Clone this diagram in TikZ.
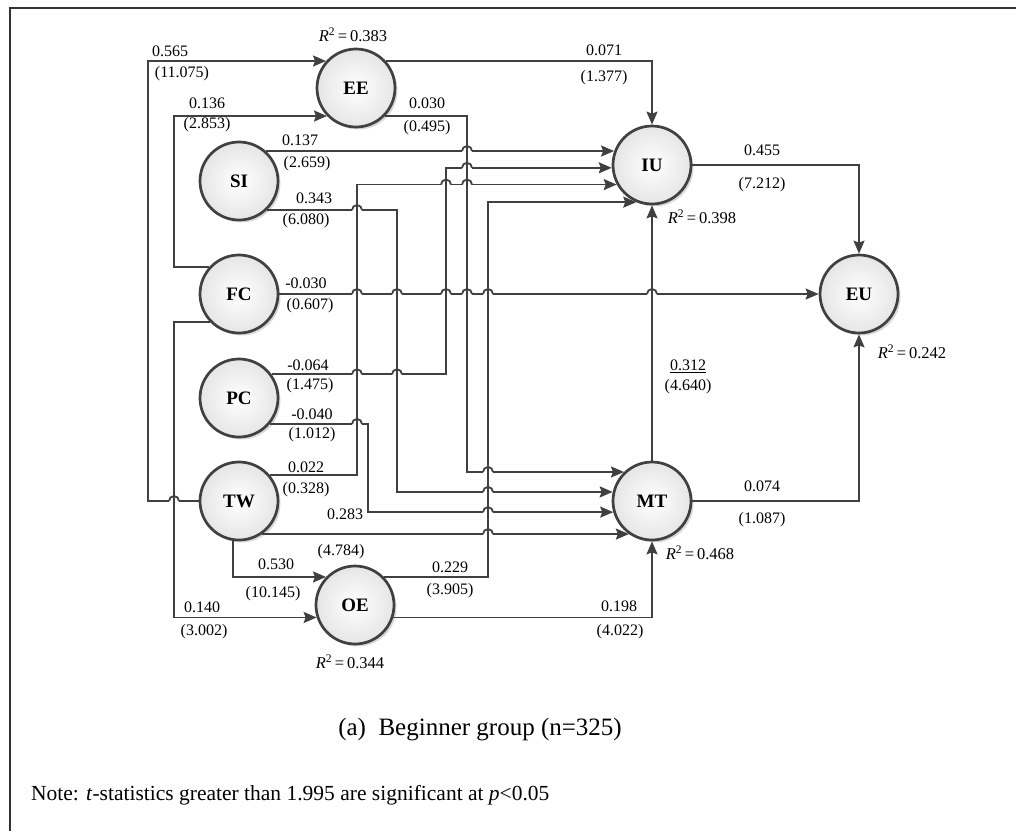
\documentclass[tikz,border=0pt]{standalone}
\usepackage{fontspec}
\setmainfont{Liberation Serif}
\usetikzlibrary{arrows.meta,shadows,calc}
\definecolor{ln}{HTML}{404040}
\newcommand\jump[1]{%
  \coordinate (h) at #1;
  \fill[white] ([shift={(-5,-2.4)}]h) rectangle ([shift={(5,2.4)}]h);
  \draw[conn] ([shift={(0,-6)}]h) -- ([shift={(0,6)}]h);
  \draw[conn] ([shift={(-5,0)}]h) arc[start angle=180,end angle=360,radius=5];
}
\newcommand\Rsq[1]{{\itshape R}\textsuperscript{2}\,=\,#1}
\begin{document}
\begin{tikzpicture}[x=1pt,y=-1pt,
  lat/.style={circle, draw=ln, line width=2.7pt, minimum size=78pt, inner sep=0pt,
    inner color=white, outer color=black!10,
    drop shadow={shadow xshift=2.5pt, shadow yshift=-2.5pt, opacity=0.15, fill=black},
    font=\fontsize{19}{21}\selectfont\bfseries},
  conn/.style={draw=ln, line width=1.8pt},
  arr/.style={conn, -{Stealth[length=13pt,width=11pt,inset=2pt]}},
  lab/.style={font=\fontsize{16}{18}\selectfont, inner sep=0pt},
  rsq/.style={font=\fontsize{16.5}{18}\selectfont, inner sep=0pt},
]
\useasboundingbox (0,0) rectangle (1016,831);
\fill[white] (0,0) rectangle (1016,831);
\draw[line width=2.2pt, black!80] (10,831) -- (10,8) -- (1016,8);

% latent variables
\node[lat] (EE) at (356,88) {EE};
\node[lat] (SI) at (239,181) {SI};
\node[lat] (FC) at (239,294) {FC};
\node[lat] (PC) at (239,398) {PC};
\node[lat] (TW) at (239,501) {TW};
\node[lat] (OE) at (355,605) {OE};
\node[lat] (IU) at (652,165) {IU};
\node[lat] (MT) at (652,501) {MT};
\node[lat] (EU) at (859,294) {EU};

% bend columns
\coordinate (kA) at (148,0);
\coordinate (kB) at (174,0);
\coordinate (kC) at (467,0);
\coordinate (kD) at (446,0);
\coordinate (kE) at (357,0);
\coordinate (kG) at (397,0);
\coordinate (kH) at (368,0);
\coordinate (kF) at (488,0);

% connectors
\draw[arr] (TW.west) -| (kA |- EE.138) -- (EE.138);
\draw[arr] (FC.138) -| (kB |- EE.224) -- (EE.224);
\draw[arr] (FC.224) -| (kB |- OE.198) -- (OE.198);
\draw[arr] (TW.261) |- (OE.136);
\draw[arr] (EE.42) -| (IU.north);
\draw[arr] (EE.-44) -| (kC |- MT.134) -- (MT.134);
\draw[arr] (SI.48) -- (SI.48 -| IU.160.5);
\draw[arr] (PC.36) -| (kD |- IU.184) -- (IU.184);
\draw[arr] (TW.40) -| (kE |- IU.209.5) -- (IU.209.5);
\draw[arr] (OE.44) -| (kF |- IU.247) -- (IU.247);
\draw[arr] (MT.north) -- (IU.south);
\draw[arr] (SI.-46) -| (kG |- MT.167) -- (MT.167);
\draw[arr] (PC.-40) -| (kH |- MT.196) -- (MT.196);
\draw[arr] (TW.-55) -- (TW.-55 -| MT.235);
\draw[arr] (OE.-18) -| (MT.south);
\draw[arr] (FC.east) -- (EU.west);
\draw[arr] (IU.east) -| (EU.north);
\draw[arr] (MT.east) -| (EU.south);

% line jumps
\jump{(kC |- SI.48)}
\jump{(kC |- IU.184)}
\jump{(kD |- IU.209.5)}
\jump{(kC |- IU.209.5)}
\jump{(kE |- SI.-46)}
\jump{(kE |- FC.east)}
\jump{(kG |- FC.east)}
\jump{(kD |- FC.east)}
\jump{(kC |- FC.east)}
\jump{(kF |- FC.east)}
\jump{(IU.south |- FC.east)}
\jump{(kE |- PC.36)}
\jump{(kG |- PC.36)}
\jump{(kE |- PC.-40)}
\jump{(kF |- MT.134)}
\jump{(kF |- MT.167)}
\jump{(kB |- TW.west)}
\jump{(kF |- MT.196)}
\jump{(kF |- TW.-55)}

% coefficient labels
\node[lab] (l1a) at (170,51) {0.565};
\node[lab] (l1b) at (182,74) {(11.075)};
\node[lab] (l2a) at (207,103) {0.136};
\node[lab] (l2b) at (207,125) {(2.853)};
\node[lab] (l3a) at (427,103) {0.030};
\node[lab] (l3b) at (427,128) {(0.495)};
\node[lab] (l4a) at (604,50) {0.071};
\node[lab] (l4b) at (604,78) {(1.377)};
\node[lab] (l5a) at (300,140) {0.137};
\node[lab] (l5b) at (307,164) {(2.659)};
\node[lab] (l6a) at (314,198) {0.343};
\node[lab] (l6b) at (306,221) {(6.080)};
\node[lab] (l7a) at (306,283) {-0.030};
\node[lab] (l7b) at (310,306) {(0.607)};
\node[lab] (l8a) at (308,365) {-0.064};
\node[lab] (l8b) at (310,386) {(1.475)};
\node[lab] (l9a) at (312,414) {-0.040};
\node[lab] (l9b) at (312,435) {(1.012)};
\node[lab] (l10a) at (306,467) {0.022};
\node[lab] (l10b) at (306,490) {(0.328)};
\node[lab] (l11a) at (345,514) {0.283};
\node[lab] (l11b) at (341,552) {(4.784)};
\node[lab] (l12a) at (276,564) {0.530};
\node[lab] (l12b) at (273,594) {(10.145)};
\node[lab] (l13a) at (450,567) {0.229};
\node[lab] (l13b) at (450,591) {(3.905)};
\node[lab] (l14a) at (202,607) {0.140};
\node[lab] (l14b) at (204,632) {(3.002)};
\node[lab] (l15a) at (619,606) {0.198};
\node[lab] (l15b) at (620,632) {(4.022)};
\node[lab] (l16a) at (688,366) {\underline{0.312}};
\node[lab] (l16b) at (688,387) {(4.640)};
\node[lab] (l17a) at (762,150) {0.455};
\node[lab] (l17b) at (762,185) {(7.212)};
\node[lab] (l18a) at (762,486) {0.074};
\node[lab] (l18b) at (762,520) {(1.087)};

% R squared
\node[rsq] (rEE) at (353,35) {\Rsq{0.383}};
\node[rsq] (rIU) at (702,217) {\Rsq{0.398}};
\node[rsq] (rMT) at (700,553) {\Rsq{0.468}};
\node[rsq] (rEU) at (912,352) {\Rsq{0.242}};
\node[rsq] (rOE) at (350,662) {\Rsq{0.344}};

% caption and note
\node[font=\fontsize{25}{28}\selectfont, inner sep=0pt] (cap) at (480,730) {(a)\enspace Beginner group (n=325)};
\node[font=\fontsize{21.5}{24}\selectfont, inner sep=0pt, anchor=west] (note) at (31,795) {Note: \textit{t}-statistics greater than 1.995 are significant at \textit{p}<0.05};
\end{tikzpicture}
\end{document}
